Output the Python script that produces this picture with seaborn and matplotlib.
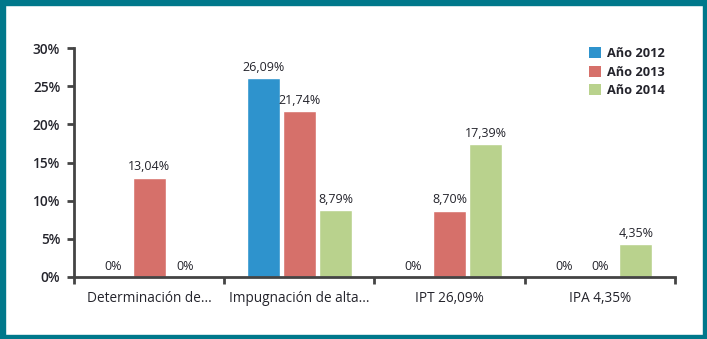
import matplotlib
matplotlib.use("Agg")
import matplotlib.pyplot as plt
from matplotlib.patches import Patch, Rectangle
import seaborn as sns
import pandas as pd

categories = ["Determinación de...", "Impugnación de alta...", "IPT 26,09%", "IPA 4,35%"]
years = ["Año 2012", "Año 2013", "Año 2014"]
values_2012 = [0, 26.09, 0, 0]
values_2013 = [13.04, 21.74, 8.70, 0]
values_2014 = [0, 8.79, 17.39, 4.35]
y_ticks = [0, 5, 10, 15, 20, 25, 30]
colors = ["#2e93cd", "#d6706a", "#b9d28d"]

series = [values_2012, values_2013, values_2014]
rows = []
for yr, vals in zip(years, series):
    for c, v in zip(categories, vals):
        rows.append({"cat": c, "year": yr, "val": v})
df = pd.DataFrame(rows)

sns.set_style("white")
plt.rcParams["font.family"] = ["Open Sans", "DejaVu Sans"]
txt = "#24242c"

fig = plt.figure(figsize=(7.07, 3.39), dpi=100)
ax = fig.add_axes([0.1047, 0.183, 0.85, 0.675])
sns.barplot(data=df, x="cat", y="val", hue="year", palette=colors,
            width=0.72, gap=0.08, saturation=1, ax=ax, legend=False)

def fmt(v):
    if v == 0:
        return "0%"
    return f"{v:.2f}".replace(".", ",") + "%"

for cont, vals in zip(ax.containers, series):
    ax.bar_label(cont, labels=[fmt(v) for v in vals], padding=3,
                 fontsize=9, color=txt)

ax.set_xlim(-0.5, 3.5)
ax.set_ylim(0, 30)
ax.set_yticks(y_ticks)
ax.set_yticklabels([f"{t}%" for t in y_ticks], fontsize=9.8, fontweight="semibold", color=txt)
ax.set_xticks(range(len(categories)))
ax.set_xticklabels(categories, fontsize=9.8, color=txt)
ax.set_xticks([-0.5, 0.5, 1.5, 2.5, 3.5], minor=True)
ax.tick_params(axis="x", which="both", bottom=True)
ax.tick_params(axis="y", which="both", left=True)
ax.tick_params(axis="x", which="major", length=0, pad=10)
ax.tick_params(axis="x", which="minor", length=5, width=2, color="#444444", direction="out")
ax.tick_params(axis="y", which="major", length=5, width=2, color="#444444", direction="out", pad=5)
ax.set_xlabel("")
ax.set_ylabel("")
for s in ["top", "right"]:
    ax.spines[s].set_visible(False)
for s in ["left", "bottom"]:
    ax.spines[s].set_color("#444444")
    ax.spines[s].set_linewidth(2)

handles = [Patch(facecolor=c, edgecolor="none") for c in colors]
leg = fig.legend(handles, years, loc="upper left", bbox_to_anchor=(0.833, 0.862),
                 frameon=False, handlelength=0.95, handleheight=0.95,
                 handletextpad=0.5, labelspacing=0.45, borderaxespad=0,
                 borderpad=0, prop={"size": 9.2, "weight": "bold"})
for t in leg.get_texts():
    t.set_color(txt)

teal = "#00788b"
bw = 4.5 / 707
bh = 4.5 / 339
fig.patches.extend([
    Rectangle((0, 0), 1, bh, transform=fig.transFigure, color=teal, zorder=10),
    Rectangle((0, 1 - bh), 1, bh, transform=fig.transFigure, color=teal, zorder=10),
    Rectangle((0, 0), bw, 1, transform=fig.transFigure, color=teal, zorder=10),
    Rectangle((1 - bw, 0), bw, 1, transform=fig.transFigure, color=teal, zorder=10),
])

fig.savefig("out.png", dpi=100)
